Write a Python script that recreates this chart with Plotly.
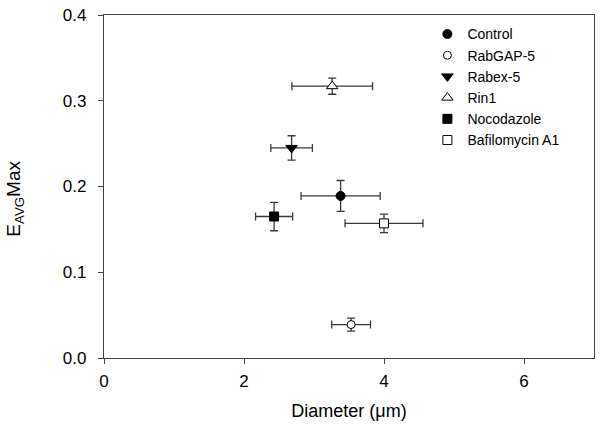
import plotly.graph_objects as go

names = ["Control", "RabGAP-5", "Rabex-5", "Rin1", "Nocodazole", "Bafilomycin A1"]
diameter = [3.38, 3.53, 2.68, 3.26, 2.43, 4.00]
diameter_err = [0.565, 0.277, 0.297, 0.576, 0.265, 0.557]
eavg_max = [0.189, 0.039, 0.245, 0.317, 0.165, 0.157]
eavg_err = [0.018, 0.0076, 0.0142, 0.0094, 0.0166, 0.0107]
symbols = ["circle", "circle", "triangle-down", "triangle-up", "square", "square"]
fills = ["black", "white", "black", "white", "black", "white"]
sizes = [9, 8, 10, 10, 9, 9]

font_family = "Liberation Sans, Arial, sans-serif"
err_color = "#3a3a3a"

fig = go.Figure()
for i, n in enumerate(names):
    fig.add_trace(go.Scatter(
        x=[diameter[i]], y=[eavg_max[i]], mode="markers", name=n,
        marker=dict(symbol=symbols[i], color=fills[i], size=sizes[i],
                    line=dict(color="black", width=1)),
        error_x=dict(type="data", array=[diameter_err[i]], color=err_color, thickness=1.3, width=4),
        error_y=dict(type="data", array=[eavg_err[i]], color=err_color, thickness=1.3, width=4),
    ))

axis_common = dict(showline=True, linecolor="#444", linewidth=1.2, mirror=True,
                   ticks="outside", ticklen=5, tickcolor="#444", tickwidth=1.2,
                   showgrid=False, zeroline=False, automargin=False,
                   tickfont=dict(family=font_family, size=17, color="black"))

fig.update_layout(
    width=603, height=432,
    margin=dict(l=104, r=9, t=15, b=74),
    paper_bgcolor="white", plot_bgcolor="white",
    font=dict(family=font_family, color="black"),
    xaxis=dict(range=[0, 7], tickvals=[0, 2, 4, 6], ticklabelstandoff=2,
               title=dict(text="Diameter (μm)", font=dict(size=18), standoff=14),
               **axis_common),
    yaxis=dict(range=[0, 0.4], tickvals=[0, 0.1, 0.2, 0.3, 0.4], tickformat=".1f",
               ticklabelstandoff=8, **axis_common),
    legend=dict(x=0.66, y=0.99, xanchor="left", yanchor="top",
                font=dict(size=14, family=font_family), bgcolor="rgba(0,0,0,0)",
                itemwidth=30, tracegroupgap=0),
    showlegend=True,
)

fig.add_annotation(
    text="E<sub>AVG</sub>Max", textangle=-90, showarrow=False,
    xref="paper", yref="paper", x=-0.182, y=0.464, xanchor="center", yanchor="middle",
    font=dict(size=19, family=font_family, color="black"),
)

fig.write_html("out.html", config={"displayModeBar": False})

with open("out.html", "r", encoding="utf-8") as f:
    html = f.read()
html = html.replace("<body>", '<body style="margin:0;padding:0;">', 1)
with open("out.html", "w", encoding="utf-8") as f:
    f.write(html)
